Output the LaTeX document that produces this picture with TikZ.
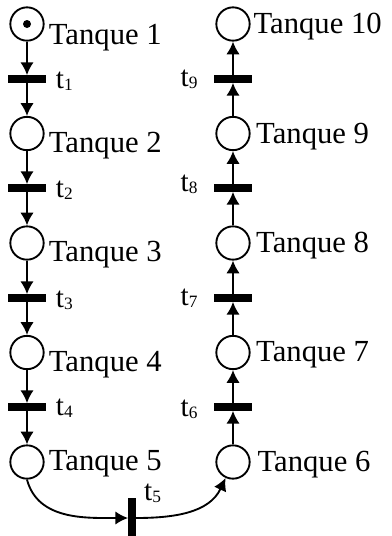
\documentclass[tikz,border=0pt]{standalone}
\usepackage{fontspec}
\setmainfont{Liberation Serif}
\usetikzlibrary{arrows.meta}
\newcommand{\tname}[1]{t\raisebox{-1.5pt}{\fontsize{13}{13}\selectfont #1}}
\tikzset{
    place/.style={circle,draw,line width=1.4pt,minimum size=25pt,inner sep=0pt},
    trans/.style={fill=black,minimum width=28.5pt,minimum height=5.5pt,inner sep=0pt},
    vtrans/.style={trans,minimum width=5.5pt,minimum height=30pt},
    lbl/.style={font=\fontsize{23}{27}\selectfont,inner sep=0pt},
    tlbl/.style={font=\fontsize{22}{26}\selectfont,inner sep=0pt},
    arr/.style={-{Latex[length=9.5pt,width=10pt]},line width=1.4pt}
}
\begin{document}
\begin{tikzpicture}[x=0.75pt,y=-0.75pt]
        \useasboundingbox (0,0) rectangle (392,536);
        % linke Spalte
        \node[place] (p1) at (27,24) {};
        \fill (p1) circle (3pt);
        \node[trans] (t1) at (27,79) {};
        \node[place] (p2) at (27,133.5) {};
        \node[trans] (t2) at (27,188) {};
        \node[place] (p3) at (27,243) {};
        \node[trans] (t3) at (27,298) {};
        \node[place] (p4) at (27,352.5) {};
        \node[trans] (t4) at (27,407) {};
        \node[place] (p5) at (27,462) {};
        % unten
        \node[vtrans] (t5) at (132,518) {};
        % rechte Spalte
        \node[place] (p6) at (233,462) {};
        \node[trans] (t6) at (233,407) {};
        \node[place] (p7) at (233,352.5) {};
        \node[trans] (t7) at (233,298) {};
        \node[place] (p8) at (233,243) {};
        \node[trans] (t8) at (233,188) {};
        \node[place] (p9) at (233,133.5) {};
        \node[trans] (t9) at (233,79) {};
        \node[place] (p10) at (233,24) {};
        % Beschriftung
        \node[lbl,anchor=west] (l1) at ([xshift=3pt,yshift=-10pt]p1.east) {Tanque 1};
        \node[lbl,anchor=west] (l2) at ([xshift=3pt,yshift=-9pt]p2.east) {Tanque 2};
        \node[lbl,anchor=west] (l3) at ([xshift=3pt,yshift=-9pt]p3.east) {Tanque 3};
        \node[lbl,anchor=west] (l4) at ([xshift=3pt,yshift=-9pt]p4.east) {Tanque 4};
        \node[lbl,anchor=west] (l5) at ([xshift=3pt,yshift=-1pt]p5.east) {Tanque 5};
        \node[lbl,anchor=west] (l6) at ([xshift=5pt,yshift=-2pt]p6.east) {Tanque 6};
        \node[lbl,anchor=west] (l7) at ([xshift=4pt,yshift=-2pt]p7.east) {Tanque 7};
        \node[lbl,anchor=west] (l8) at ([xshift=4pt,yshift=-2pt]p8.east) {Tanque 8};
        \node[lbl,anchor=west] (l9) at ([xshift=4pt,yshift=-2pt]p9.east) {Tanque 9};
        \node[lbl,anchor=west] (l10) at ([xshift=2pt,yshift=-2pt]p10.east) {Tanque 10};
        \node[tlbl,anchor=west] (lt1) at ([xshift=7pt,yshift=-2pt]t1.east) {\tname{1}};
        \node[tlbl,anchor=west] (lt2) at ([xshift=7pt,yshift=-1.5pt]t2.east) {\tname{2}};
        \node[tlbl,anchor=west] (lt3) at ([xshift=7pt,yshift=-1.5pt]t3.east) {\tname{3}};
        \node[tlbl,anchor=west] (lt4) at ([xshift=7pt,yshift=-1pt]t4.east) {\tname{4}};
        \node[tlbl,anchor=south west] (lt5) at ([xshift=6pt,yshift=-4pt]t5.north east) {\tname{5}};
        \node[tlbl,anchor=east] (lt6) at ([xshift=-12pt,yshift=-2pt]t6.west) {\tname{6}};
        \node[tlbl,anchor=east] (lt7) at ([xshift=-12pt]t7.west) {\tname{7}};
        \node[tlbl,anchor=east] (lt8) at ([xshift=-12pt,yshift=3pt]t8.west) {\tname{8}};
        \node[tlbl,anchor=east] (lt9) at ([xshift=-12pt]t9.west) {\tname{9}};
        % Kanten
        \draw[arr] (p1) -- (t1); \draw[arr] (t1) -- (p2);
        \draw[arr] (p2) -- (t2); \draw[arr] (t2) -- (p3);
        \draw[arr] (p3) -- (t3); \draw[arr] (t3) -- (p4);
        \draw[arr] (p4) -- (t4); \draw[arr] (t4) -- (p5);
        \draw[arr] (p5.south) to[out=-75,in=180] (t5);
        \draw[arr] (t5) to[out=0,in=-115] (p6);
        \draw[arr] (p6) -- (t6); \draw[arr] (t6) -- (p7);
        \draw[arr] (p7) -- (t7); \draw[arr] (t7) -- (p8);
        \draw[arr] (p8) -- (t8); \draw[arr] (t8) -- (p9);
        \draw[arr] (p9) -- (t9); \draw[arr] (t9) -- (p10);
\end{tikzpicture}
\end{document}
